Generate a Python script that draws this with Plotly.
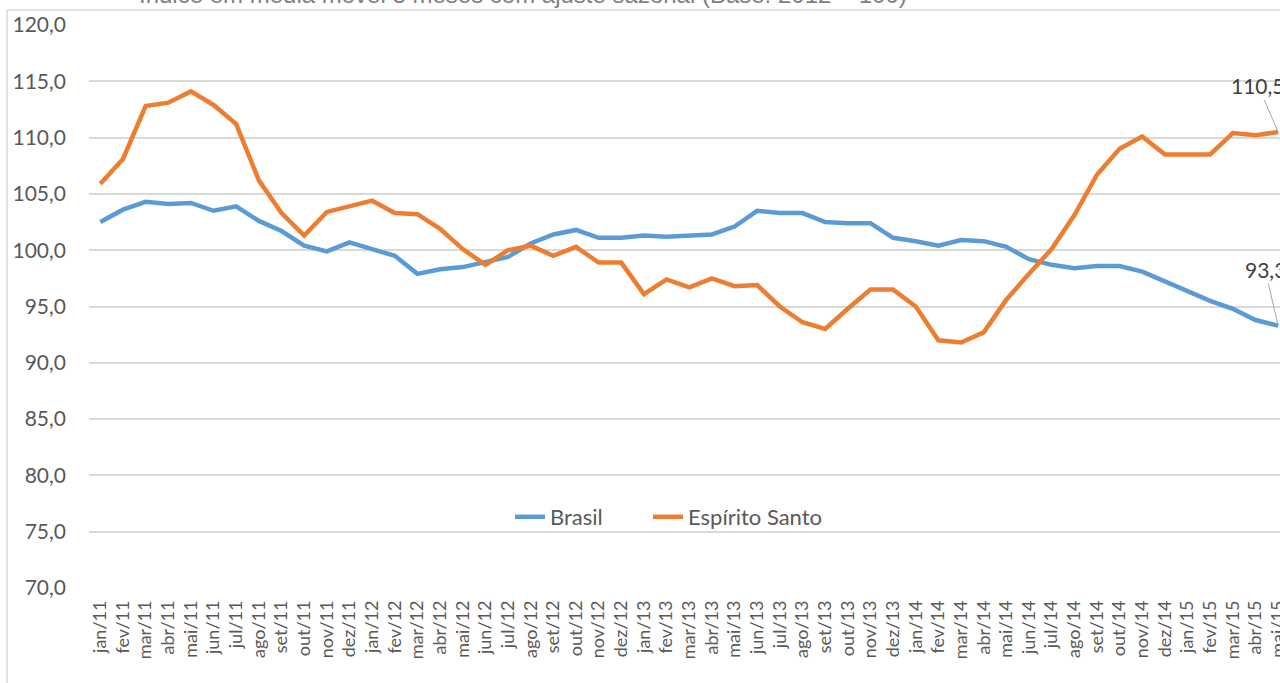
import plotly.graph_objects as go

months = ["jan", "fev", "mar", "abr", "mai", "jun", "jul", "ago", "set", "out", "nov", "dez"]
categories = [f"{m}/{y}" for y in ["11", "12", "13", "14"] for m in months] + \
             [f"{m}/15" for m in months[:5]]

brasil = [102.5, 103.6, 104.3, 104.1, 104.2, 103.5, 103.9, 102.6, 101.7, 100.4,
          99.9, 100.7, 100.1, 99.5, 97.9, 98.3, 98.5, 98.9, 99.4, 100.6,
          101.4, 101.8, 101.1, 101.1, 101.3, 101.2, 101.3, 101.4, 102.1, 103.5,
          103.3, 103.3, 102.5, 102.4, 102.4, 101.1, 100.8, 100.4, 100.9, 100.8,
          100.3, 99.2, 98.7, 98.4, 98.6, 98.6, 98.1, 97.2, 96.4, 95.5,
          94.8, 93.8, 93.3]

espirito_santo = [105.9, 108.1, 112.8, 113.1, 114.1, 112.9, 111.2, 106.2, 103.3, 101.3,
                  103.4, 103.9, 104.4, 103.3, 103.2, 101.9, 100.1, 98.7, 100.0, 100.4,
                  99.5, 100.3, 98.9, 98.9, 96.1, 97.4, 96.7, 97.5, 96.8, 96.9,
                  95.0, 93.6, 93.0, 94.8, 96.5, 96.5, 95.0, 92.0, 91.8, 92.7,
                  95.6, 97.9, 100.1, 103.1, 106.7, 109.0, 110.1, 108.5, 108.5, 108.5,
                  110.4, 110.2, 110.5]

series_names = ["Brasil", "Espírito Santo"]
series_colors = ["#5B9BD5", "#ED7D31"]
series_legends = ["legend", "legend2"]
title_text = "Índice em média móvel 3 meses com ajuste sazonal (Base: 2012 = 100)"

W, H = 1280, 683
L, T = 89, 25
PLOT_BOTTOM = 588
R, B = 0, H - PLOT_BOTTOM
PW, PH = W - L - R, PLOT_BOTTOM - T
FONT = "Lato, 'Open Sans', sans-serif"
GRAY = "#595959"
BAND = 22.65


def px_x(px):  # page pixel -> paper
    return (px - L) / PW


def px_y(py):
    return (PLOT_BOTTOM - py) / PH


fig = go.Figure()
for name, vals, col, lg in zip(series_names, [brasil, espirito_santo], series_colors, series_legends):
    fig.add_trace(go.Scatter(x=categories, y=vals, name=name, mode="lines", legend=lg,
                             line=dict(color=col, width=4.5)))

# end-point data labels with leader lines
for vals, ax, ay in [(espirito_santo, -20, -46), (brasil, -13, -56)]:
    fig.add_annotation(x=categories[-1], y=vals[-1], xref="x", yref="y",
                       text=f"{vals[-1]:.1f}".replace(".", ","),
                       showarrow=True, arrowhead=0, arrowwidth=1, arrowcolor="#A6A6A6",
                       ax=ax, ay=ay, standoff=0, startstandoff=0,
                       font=dict(family=FONT, size=21, color="#404040"))

# title (mostly cut off at top)
fig.add_annotation(x=px_x(137), y=px_y(-5), xref="paper", yref="paper",
                   xanchor="left", yanchor="middle", showarrow=False,
                   text=title_text,
                   font=dict(family="'Liberation Sans', Arial, sans-serif", size=24, color="#7F7F7F"))

# chart-area frame lines
fig.add_shape(type="line", xref="paper", yref="paper",
              x0=px_x(7), x1=px_x(7), y0=px_y(10), y1=px_y(700),
              line=dict(color="#D9D9D9", width=1.5))
fig.add_shape(type="line", xref="paper", yref="paper",
              x0=px_x(7), x1=px_x(1300), y0=px_y(10), y1=px_y(10),
              line=dict(color="#D9D9D9", width=1.5))

legend_style = dict(orientation="h", y=px_y(517), xanchor="left", yanchor="middle",
                    font=dict(family=FONT, size=22, color=GRAY), bgcolor="rgba(0,0,0,0)")

fig.update_layout(
    width=W, height=H,
    margin=dict(l=L, r=R, t=T, b=B, autoexpand=False),
    paper_bgcolor="white", plot_bgcolor="white",
    separators=", ",
    showlegend=True,
    legend=dict(x=px_x(510), **legend_style),
    legend2=dict(x=px_x(648), **legend_style),
    xaxis=dict(type="category", range=[-0.5, PW / BAND - 0.5],
               tickmode="linear", tick0=0, dtick=1,
               showgrid=False, showline=False, zeroline=False,
               tickangle=-90, ticks="", ticklabelstandoff=8,
               tickfont=dict(family=FONT, size=18, color=GRAY)),
    yaxis=dict(range=[70, 120], dtick=5, tick0=70, tickformat=".1f",
               showgrid=True, gridcolor="#D9D9D9", gridwidth=1.5,
               showline=False, zeroline=False, ticks="", ticklabelstandoff=22,
               tickfont=dict(family=FONT, size=21, color=GRAY)),
)

fig.write_html("out.html", config={"displayModeBar": False},
               post_script="document.body.style.margin='0';document.body.style.overflow='hidden';")
